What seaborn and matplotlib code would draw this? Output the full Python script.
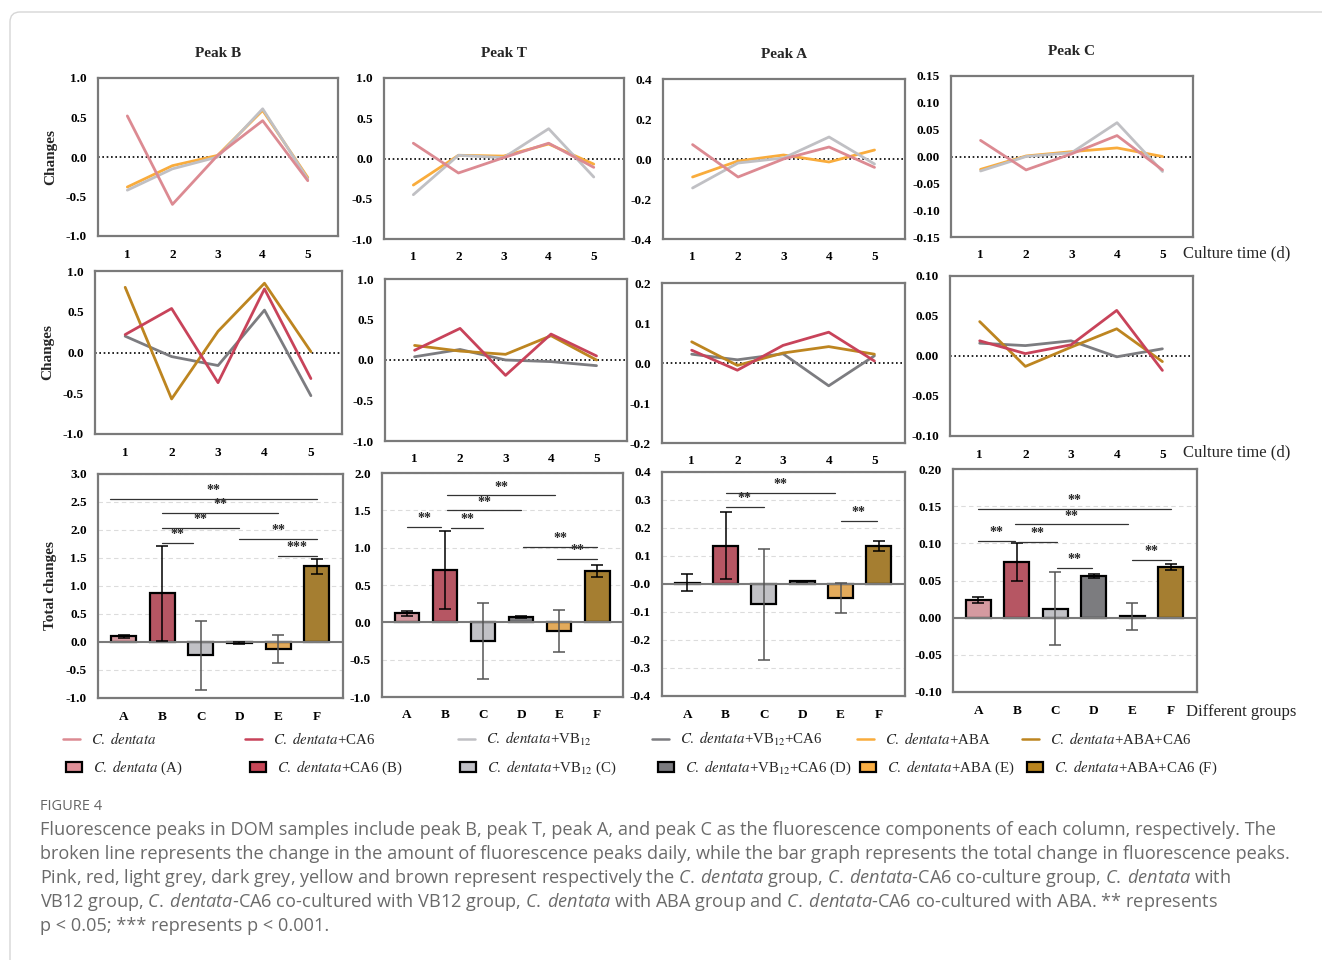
import numpy as np
import pandas as pd
import matplotlib
matplotlib.use("Agg")
import matplotlib.pyplot as plt
import seaborn as sns
from matplotlib.lines import Line2D
from matplotlib.patches import Patch, FancyBboxPatch
from matplotlib.font_manager import FontProperties
from matplotlib.ticker import FormatStrFormatter

days = [1, 2, 3, 4, 5]
groups = ["A", "B", "C", "D", "E", "F"]
peaks = ["Peak B", "Peak T", "Peak A", "Peak C"]

# daily changes, first row (A, C, E)
b_top_A = [0.52, -0.60, 0.02, 0.46, -0.30]
b_top_C = [-0.42, -0.15, 0.00, 0.61, -0.28]
b_top_E = [-0.38, -0.11, 0.02, 0.59, -0.26]
t_top_A = [0.19, -0.18, 0.01, 0.19, -0.11]
t_top_C = [-0.45, 0.04, 0.01, 0.37, -0.23]
t_top_E = [-0.33, 0.04, 0.03, 0.18, -0.07]
a_top_A = [0.072, -0.090, 0.000, 0.060, -0.042]
a_top_C = [-0.145, -0.020, 0.005, 0.110, -0.025]
a_top_E = [-0.090, -0.010, 0.020, -0.015, 0.045]
c_top_A = [0.030, -0.025, 0.005, 0.039, -0.025]
c_top_C = [-0.027, 0.000, 0.007, 0.063, -0.028]
c_top_E = [-0.024, 0.001, 0.009, 0.016, 0.000]

# daily changes, second row (B, D, F)
b_mid_B = [0.22, 0.54, -0.37, 0.78, -0.32]
b_mid_D = [0.20, -0.05, -0.16, 0.52, -0.53]
b_mid_F = [0.80, -0.57, 0.26, 0.85, 0.01]
t_mid_B = [0.12, 0.39, -0.19, 0.32, 0.05]
t_mid_D = [0.04, 0.13, 0.00, -0.02, -0.07]
t_mid_F = [0.18, 0.11, 0.07, 0.30, 0.00]
a_mid_B = [0.032, -0.018, 0.044, 0.077, 0.005]
a_mid_D = [0.022, 0.008, 0.023, -0.057, 0.018]
a_mid_F = [0.053, -0.006, 0.025, 0.041, 0.022]
c_mid_B = [0.019, 0.003, 0.014, 0.057, -0.018]
c_mid_D = [0.016, 0.013, 0.019, -0.001, 0.009]
c_mid_F = [0.043, -0.013, 0.011, 0.034, -0.007]

# total changes (mean, sd)
b_total = [0.10, 0.87, -0.24, -0.02, -0.12, 1.35]
b_err = [0.025, 0.85, 0.62, 0.02, 0.25, 0.14]
t_total = [0.12, 0.70, -0.25, 0.07, -0.12, 0.69]
t_err = [0.03, 0.52, 0.51, 0.01, 0.28, 0.08]
a_total = [0.005, 0.137, -0.072, 0.010, -0.050, 0.136]
a_err = [0.030, 0.120, 0.198, 0.002, 0.053, 0.017]
c_total = [0.024, 0.075, 0.012, 0.056, 0.002, 0.068]
c_err = [0.004, 0.026, 0.049, 0.003, 0.018, 0.004]

# significance brackets: (from, to, height, label)
b_sig = [(-0.35, 5, 2.55, "**"), (1, 4, 2.30, "**"), (1, 3, 2.03, "**"),
         (1, 1.8, 1.77, "**"), (3, 5, 1.84, "**"), (4, 5, 1.54, "***")]
t_sig = [(0, 0.9, 1.28, "**"), (1.15, 2, 1.27, "**"), (1.05, 3, 1.50, "**"),
         (1.05, 3.9, 1.70, "**"), (3.05, 5, 1.01, "**"), (3.95, 5, 0.85, "**")]
a_sig = [(1, 2, 0.274, "**"), (1, 3.85, 0.324, "**"), (4, 4.95, 0.226, "**")]
c_sig = [(0, 5, 0.146, "**"), (0.95, 3.9, 0.1255, "**"), (0, 0.95, 0.1035, "**"),
         (1.02, 2.05, 0.102, "**"), (2.05, 2.95, 0.0665, "**"), (4, 5, 0.0775, "**")]

line_colors = {"A": "#dc8a92", "B": "#c8435a", "C": "#c0c0c4",
               "D": "#7c7c80", "E": "#f9ac3c", "F": "#bd8520"}
bar_colors = {"A": "#df9098", "B": "#c64657", "C": "#c0c0c6",
              "D": "#7b7b7f", "E": "#f9ae44", "F": "#b8841e"}

legend_labels = [
    r"$\mathit{C.\ dentata}$",
    r"$\mathit{C.\ dentata}$+CA6",
    r"$\mathit{C.\ dentata}$+VB$_{12}$",
    r"$\mathit{C.\ dentata}$+VB$_{12}$+CA6",
    r"$\mathit{C.\ dentata}$+ABA",
    r"$\mathit{C.\ dentata}$+ABA+CA6",
]
legend_order = ["A", "B", "C", "D", "E", "F"]

caption_lines = [
    "Fluorescence peaks in DOM samples include peak B, peak T, peak A, and peak C as the fluorescence components of each column, respectively. The",
    "broken line represents the change in the amount of fluorescence peaks daily, while the bar graph represents the total change in fluorescence peaks.",
    r"Pink, red, light grey, dark grey, yellow and brown represent respectively the $\mathit{C.\:dentata}$ group, $\mathit{C.\:dentata}$-CA6 co-culture group, $\mathit{C.\:dentata}$ with",
    r"VB12 group, $\mathit{C.\:dentata}$-CA6 co-cultured with VB12 group, $\mathit{C.\:dentata}$ with ABA group and $\mathit{C.\:dentata}$-CA6 co-cultured with ABA. ** represents",
    "p < 0.05; *** represents p < 0.001.",
]

sns.set_theme(style="white")
plt.rcParams["font.family"] = ["Liberation Serif", "DejaVu Serif"]
plt.rcParams["axes.unicode_minus"] = False
plt.rcParams["mathtext.fontset"] = "custom"
plt.rcParams["mathtext.rm"] = "Open Sans"
plt.rcParams["mathtext.it"] = "Open Sans:italic"

W, H = 1322, 960
fig = plt.figure(figsize=(W / 100, H / 100), dpi=100)
fig.patch.set_facecolor("white")


def px_axes(left, top, right, bottom):
    return fig.add_axes([left / W, 1 - bottom / H, (right - left) / W, (bottom - top) / H])


def style_axes(ax, yticks, fmt):
    for s in ax.spines.values():
        s.set_color("#7a7a7a")
        s.set_linewidth(1.6)
    ax.set_yticks(yticks)
    ax.set_ylim(yticks[0], yticks[-1])
    ax.yaxis.set_major_formatter(FormatStrFormatter(fmt))
    ax.tick_params(axis="both", direction="out", length=5, width=1.4,
                   color="#7a7a7a", labelsize=9.5, pad=3, labelcolor="black")
    ax.tick_params(axis="x", pad=4)
    for lab in ax.get_xticklabels() + ax.get_yticklabels():
        lab.set_fontweight("bold")
    ax.set_xlabel("")
    ax.set_ylabel("")


def line_panel(ax, series, order, yticks, fmt):
    df = pd.DataFrame({
        "day": days * len(order),
        "value": sum([series[g] for g in order], []),
        "group": sum([[g] * len(days) for g in order], []),
    })
    ax.axhline(0, color="black", lw=1.2, ls=(0, (1, 1.6)), zorder=1)
    sns.lineplot(data=df, x="day", y="value", hue="group", hue_order=order,
                 palette=line_colors, linewidth=2, errorbar=None, legend=False,
                 ax=ax, zorder=3)
    ax.set_xlim(0.35, 5.67)
    ax.set_xticks(days)
    style_axes(ax, yticks, fmt)


def bar_panel(ax, total, err, sig, yticks, fmt):
    df = pd.DataFrame({"group": groups, "total": total})
    ax.yaxis.grid(True, color="#dcdcdc", lw=0.8, ls=(0, (4, 3)))
    ax.set_axisbelow(True)
    sns.barplot(data=df, x="group", y="total", hue="group", order=groups,
                hue_order=groups, palette=bar_colors, width=0.65,
                edgecolor="black", linewidth=1.6, legend=False, ax=ax, zorder=3)
    for i, g in enumerate(groups):
        ec = "#555555" if g in ("C", "E") else "black"
        ax.errorbar(i, total[i], yerr=err[i], fmt="none", ecolor=ec,
                    elinewidth=1.1, capsize=4, capthick=1.1, zorder=4)
    ax.axhline(0, color="#7a7a7a", lw=1.5, zorder=3.5)
    for x0, x1, y, lab in sig:
        ax.plot([x0, x1], [y, y], color="#333333", lw=0.9, zorder=5)
        ax.annotate(lab, ((x0 + x1) / 2, y), xytext=(0, 6), textcoords="offset points",
                    ha="center", va="center", fontsize=10, fontweight="bold")
    ax.set_xlim(-0.66, 5.68)
    style_axes(ax, yticks, fmt)


top_pos = [(98, 78, 338, 236), (384, 78, 624, 239), (663, 79, 905, 239), (951, 76, 1193, 237)]
mid_pos = [(95, 271, 342, 434), (385, 279, 627, 441), (662, 283, 905, 443), (950, 276, 1193, 436)]
bot_pos = [(98, 474, 343, 698), (382, 473, 623, 697), (662, 472, 905, 696), (953, 469, 1197, 692)]

top_series = [
    {"A": b_top_A, "C": b_top_C, "E": b_top_E},
    {"A": t_top_A, "C": t_top_C, "E": t_top_E},
    {"A": a_top_A, "C": a_top_C, "E": a_top_E},
    {"A": c_top_A, "C": c_top_C, "E": c_top_E},
]
mid_series = [
    {"B": b_mid_B, "D": b_mid_D, "F": b_mid_F},
    {"B": t_mid_B, "D": t_mid_D, "F": t_mid_F},
    {"B": a_mid_B, "D": a_mid_D, "F": a_mid_F},
    {"B": c_mid_B, "D": c_mid_D, "F": c_mid_F},
]
top_ticks = [np.arange(-1, 1.01, 0.5), np.arange(-1, 1.01, 0.5),
             np.arange(-0.4, 0.41, 0.2), np.arange(-0.15, 0.151, 0.05)]
mid_ticks = [np.arange(-1, 1.01, 0.5), np.arange(-1, 1.01, 0.5),
             np.arange(-0.2, 0.21, 0.1), np.arange(-0.1, 0.101, 0.05)]
bot_ticks = [np.arange(-1, 3.01, 0.5), np.arange(-1, 2.01, 0.5),
             np.arange(-0.4, 0.41, 0.1), np.arange(-0.1, 0.201, 0.05)]
fmts = ["%.1f", "%.1f", "%.1f", "%.2f"]
totals = [(b_total, b_err, b_sig), (t_total, t_err, t_sig),
          (a_total, a_err, a_sig), (c_total, c_err, c_sig)]

for k in range(4):
    ax = px_axes(*top_pos[k])
    line_panel(ax, top_series[k], ["E", "C", "A"], top_ticks[k], fmts[k])
    ax.set_title(peaks[k], fontsize=11, fontweight="bold", pad=15)
    if k == 0:
        ax.set_ylabel("Changes", fontsize=11, fontweight="bold", labelpad=6)

    ax = px_axes(*mid_pos[k])
    line_panel(ax, mid_series[k], ["D", "F", "B"], mid_ticks[k], fmts[k])
    if k == 0:
        ax.set_ylabel("Changes", fontsize=11, fontweight="bold", labelpad=6)

    ax = px_axes(*bot_pos[k])
    tot, err, sig = totals[k]
    bar_panel(ax, tot, err, sig, bot_ticks[k], fmts[k])
    if k == 0:
        ax.set_ylabel("Total changes", fontsize=11, fontweight="bold", labelpad=6)

fig.text(1183 / W, 1 - 253 / H, "Culture time (d)", fontsize=12, va="center")
fig.text(1183 / W, 1 - 452 / H, "Culture time (d)", fontsize=12, va="center")
fig.text(1186 / W, 1 - 712 / H, "Different groups", fontsize=12, va="center")

# legend rows
leg_prop = FontProperties(family="Liberation Serif", size=10.7, weight="normal", math_fontfamily="stix")
line_x = [63, 245, 458, 652, 857, 1022]
box_x = [66, 250, 460, 658, 860, 1027]
box_suffix = [" (A)", " (B)", " (C)", " (D)", " (E)", " (F)"]
for i, g in enumerate(legend_order):
    h = Line2D([], [], color=line_colors[g], lw=1.8)
    fig.legend([h], [legend_labels[i]], loc="center left",
               bbox_to_anchor=(line_x[i] / W, 1 - 739 / H), frameon=False,
               borderpad=0, borderaxespad=0, handlelength=1.15, handletextpad=0.75,
               prop=leg_prop)
    p = Patch(facecolor=bar_colors[g], edgecolor="black", linewidth=1.6)
    fig.legend([p], [legend_labels[i] + box_suffix[i]], loc="center left",
               bbox_to_anchor=(box_x[i] / W, 1 - 768 / H), frameon=False,
               borderpad=0, borderaxespad=0, handlelength=1.05, handleheight=0.65,
               handletextpad=0.8, prop=leg_prop)

# caption
fig.text(40 / W, 1 - 806 / H, "FIGURE 4", family="Open Sans", fontsize=10.5,
         color="#666666", va="center")
for i, line in enumerate(caption_lines):
    fig.text(40 / W, 1 - (830 + 24 * i) / H, line, family="Open Sans", fontsize=13.1,
             color="#6a6a6a", va="center", math_fontfamily="custom")

# outer frame
frame = FancyBboxPatch((0.10, -0.5), 14, 9.6 - 0.12 + 0.5,
                       boxstyle="round,pad=0,rounding_size=0.1",
                       transform=fig.dpi_scale_trans, facecolor="none",
                       edgecolor="#d6d6d6", lw=1, zorder=-1)
fig.patches.append(frame)

fig.savefig("out.png", dpi=100)
